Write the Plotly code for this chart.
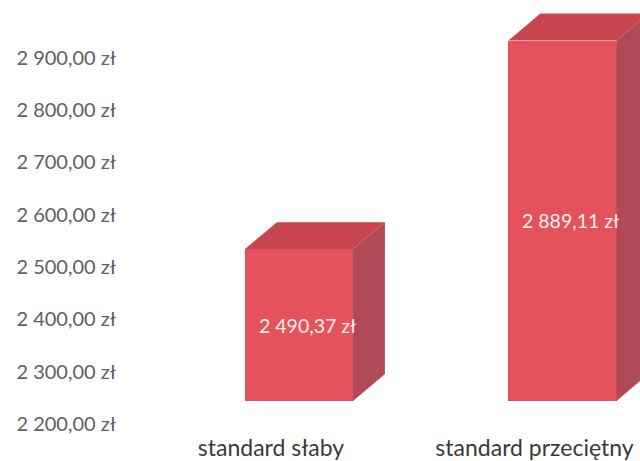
import plotly.graph_objects as go

# Wynagrodzenie wg standardu
categories = ["standard słaby", "standard przeciętny"]
values = [2490.37, 2889.11]
y_ticks = [2200, 2300, 2400, 2500, 2600, 2700, 2800, 2900]

axis_min = 2200
bar_width = 0.41
depth_x = 0.121   # horizontal depth of the 3D box (x units)
depth_y = 51.6    # vertical depth of the 3D box (y units)

front_color = "#e4535c"
top_color = "#c8454f"
side_color = "#ad4a56"


def pln(v):
    s = f"{v:,.2f}".replace(",", " ").replace(".", ",")
    return s + " zł"


xs = list(range(len(categories)))
fig = go.Figure()

# front faces
fig.add_trace(go.Bar(
    x=xs, y=[v - axis_min for v in values], base=axis_min,
    width=bar_width, marker=dict(color=front_color, line=dict(width=0)),
    hoverinfo="skip", showlegend=False,
))

for x, v in zip(xs, values):
    xl, xr = x - bar_width / 2, x + bar_width / 2
    # top face
    fig.add_trace(go.Scatter(
        x=[xl, xl + depth_x, xr + depth_x, xr, xl],
        y=[v, v + depth_y, v + depth_y, v, v],
        fill="toself", fillcolor=top_color, mode="lines",
        line=dict(width=0, color=top_color), hoverinfo="skip", showlegend=False,
    ))
    # side face
    fig.add_trace(go.Scatter(
        x=[xr, xr + depth_x, xr + depth_x, xr, xr],
        y=[axis_min, axis_min + depth_y, v + depth_y, v, axis_min],
        fill="toself", fillcolor=side_color, mode="lines",
        line=dict(width=0, color=side_color), hoverinfo="skip", showlegend=False,
    ))
    fig.add_annotation(
        x=x, y=(axis_min + v) / 2, text=pln(v), showarrow=False, xshift=8,
        font=dict(family="Lato", size=19.5, color="#fbeff0"),
    )

fig.update_layout(
    width=640, height=461,
    margin=dict(l=130, r=0, t=0, b=40),
    paper_bgcolor="white", plot_bgcolor="white",
    bargap=0,
)
fig.update_xaxes(
    range=[-0.6414, 1.2941], tickvals=xs, ticktext=categories,
    showgrid=False, zeroline=False, showline=False, ticks="",
    ticklabelshift=-28, ticklabelstandoff=11,
    tickfont=dict(family="Lato", size=23, color="#3a3a3a"),
)
fig.update_yaxes(
    range=[2161.7, 2966.7], tickvals=y_ticks, ticktext=[pln(t) for t in y_ticks],
    showgrid=False, zeroline=False, showline=False, ticks="",
    ticklabelshift=23, ticklabelstandoff=13,
    tickfont=dict(family="Lato", size=20, color="#606060"),
)

fig.write_html("out.html")
